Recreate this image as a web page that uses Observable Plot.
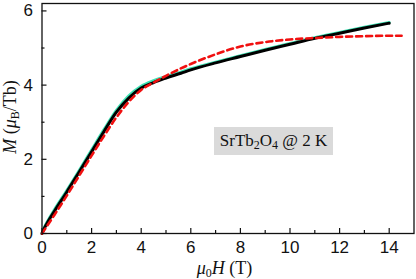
<!DOCTYPE html>
<html><head><meta charset="utf-8">
<script src="https://cdn.jsdelivr.net/npm/d3@7"></script>
<script src="https://cdn.jsdelivr.net/npm/@observablehq/plot@0.6"></script>
<style>
html,body{margin:0;padding:0;background:#fff;}
#wrap{position:relative;width:416px;height:279px;}
#note{position:absolute;left:214px;top:127px;width:119px;height:28px;background:#dadada;white-space:nowrap;
 font-family:"Liberation Serif","Times New Roman",serif;font-size:17px;line-height:28px;text-align:center;color:#111;}
#note sub{font-size:12px;vertical-align:-3px;line-height:0;}
</style></head>
<body><div id="wrap"></div>
<script>
// measured M(H)
const H_black = [0,0.1,0.25,0.5,1,1.5,2,2.5,3,3.5,4,4.5,5,5.6,6,7,8,9,10,11,12,13,14];
const M_black = [0,0.15,0.33,0.6,1.12,1.66,2.2,2.75,3.27,3.65,3.92,4.07,4.19,4.32,4.41,4.6,4.77,4.94,5.1,5.26,5.4,5.54,5.67];
const M_green = [0,0.17,0.36,0.64,1.16,1.7,2.25,2.8,3.32,3.71,3.97,4.12,4.23,4.35,4.44,4.62,4.79,4.96,5.12,5.28,5.42,5.56,5.69];
// fit (red dashed)
const H_red = [0,0.5,1,1.5,2,2.5,3,3.5,4,4.5,5,5.6,6,7,8,9,10,11,12,13,14,14.5];
const M_red = [0,0.5,1.02,1.56,2.1,2.63,3.13,3.55,3.87,4.07,4.25,4.45,4.57,4.83,5.04,5.16,5.23,5.27,5.3,5.32,5.33,5.33];
// ticks
const xMajor = [0,2,4,6,8,10,12,14];
const xMinor = [1,3,5,7,9,11,13];
const yMajor = [0,2,4,6];
const yMinor = [1,3,5];
const annotation = "SrTb<sub>2</sub>O<sub>4</sub> @ 2 K";

const black = H_black.map((h,i)=>({H:h,M:M_black[i]}));
const green = H_black.map((h,i)=>({H:h,M:M_green[i]}));
const red = H_red.map((h,i)=>({H:h,M:M_red[i]}));

const W=416, Ht=279, mL=41.5, mR=2.5, mT=3, mB=46;
const fh = Ht-mT-mB, fw = W-mL-mR;
const sans = "'Liberation Sans', Arial, sans-serif";

const chart = Plot.plot({
  width: W, height: Ht, marginLeft: mL, marginRight: mR, marginTop: mT, marginBottom: mB,
  style: {fontFamily: sans, fontSize: "17px", color: "#111", background: "white"},
  x: {domain: [0,15]},
  y: {domain: [0,6.2]},
  marks: [
    Plot.axisX(xMajor, {tickSize: 0, tickPadding: 7, fontSize: 17, label: null, fill: "#111"}),
    Plot.axisY(yMajor, {tickSize: 0, tickPadding: 9, fontSize: 17, label: null, fill: "#111"}),
    Plot.tickX(xMajor, {x: d=>d, insetTop: fh-5, stroke: "#111", strokeWidth: 1.2}),
    Plot.tickX(xMinor, {x: d=>d, insetTop: fh-3, stroke: "#111", strokeWidth: 1.2}),
    Plot.tickY(yMajor, {y: d=>d, insetRight: fw-5, stroke: "#111", strokeWidth: 1.2}),
    Plot.tickY(yMinor, {y: d=>d, insetRight: fw-3, stroke: "#111", strokeWidth: 1.2}),
    Plot.line(green, {x:"H", y:"M", stroke:"#3de3b4", strokeWidth:3, curve:"monotone-x"}),
    Plot.line(black, {x:"H", y:"M", stroke:"#000", strokeWidth:3, curve:"monotone-x"}),
    Plot.line(red, {x:"H", y:"M", stroke:"#f01010", strokeWidth:2.6, strokeDasharray:"6,4", curve:"monotone-x"}),
    Plot.frame({stroke:"#111", strokeWidth:1.3})
  ]
});
document.getElementById("wrap").appendChild(chart);

const svg = d3.select(chart);
const serif = "'Liberation Serif','Times New Roman',serif";
// y title
const yt = svg.append("text").attr("transform", `translate(16,${mT+fh/2-1}) rotate(-90)`)
  .attr("text-anchor","middle").attr("font-family",serif).attr("font-size",18).attr("fill","#111");
yt.append("tspan").attr("font-style","italic").text("M");
yt.append("tspan").text(" (");
yt.append("tspan").attr("font-style","italic").text("μ");
yt.append("tspan").attr("font-size",12).attr("dy",3).text("B");
yt.append("tspan").attr("dy",-3).text("/Tb)");
// x title
const xt = svg.append("text").attr("x", mL+fw/2-3).attr("y", 274)
  .attr("text-anchor","middle").attr("font-family",serif).attr("font-size",18).attr("fill","#111");
xt.append("tspan").attr("font-style","italic").text("μ");
xt.append("tspan").attr("font-size",12).attr("dy",3).text("0");
xt.append("tspan").attr("dy",-3).attr("font-style","italic").text("H");
xt.append("tspan").text(" (T)");

const note = document.createElement("div");
note.id = "note";
note.innerHTML = annotation;
document.getElementById("wrap").appendChild(note);
</script>
</body></html>
